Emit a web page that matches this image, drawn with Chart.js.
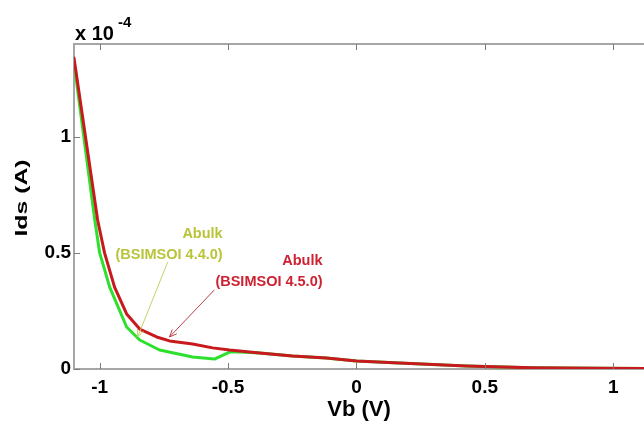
<!DOCTYPE html>
<html>
<head>
<meta charset="utf-8">
<script src="https://cdn.jsdelivr.net/npm/chart.js@4"></script>
<style>
  html, body { margin: 0; padding: 0; background: #fff; overflow: hidden; }
  #wrap { width: 644px; height: 427px; position: relative; }
</style>
</head>
<body>
<div id="wrap"><canvas id="myChart"></canvas></div>
<script>
// Vb (V) and Ids (x 1e-4 A)
var vbRed  = [-1.1, -1.008, -0.981, -0.942, -0.895, -0.844, -0.778, -0.728, -0.638, -0.560, -0.494, -0.377, -0.249, -0.117, 0.0, 0.167, 0.428, 0.685, 0.946, 1.12];
var idsRed = [1.34, 0.642, 0.500, 0.353, 0.237, 0.172, 0.138, 0.121, 0.108, 0.091, 0.082, 0.069, 0.056, 0.047, 0.034, 0.026, 0.013, 0.005, 0.003, 0.002];

var vbGreen  = [-1.1, -1.019, -1.0, -0.961, -0.895, -0.844, -0.767, -0.638, -0.553, -0.494, -0.455, -0.377, -0.249, -0.117, 0.0, 0.167, 0.428, 0.685, 0.946, 1.12];
var idsGreen = [1.32, 0.642, 0.500, 0.353, 0.181, 0.125, 0.082, 0.052, 0.043, 0.073, 0.073, 0.069, 0.056, 0.047, 0.034, 0.026, 0.013, 0.005, 0.003, 0.002];

var xTicks = [-1, -0.5, 0, 0.5, 1];
var yTicks = [0, 0.5, 1];

// annotation labels (anchored in data units)
var notes = [
  {lines: ['Abulk', '(BSIMSOI 4.4.0)'], x: -0.521, y: [0.582, 0.491], color: '#b9c43a',
   arrow: [-0.735, 0.461, -0.852, 0.138], arrowColor: '#c9cf6a'},
  {lines: ['Abulk', '(BSIMSOI 4.5.0)'], x: -0.132, y: [0.466, 0.375], color: '#cc2233',
   arrow: [-0.553, 0.341, -0.728, 0.138], arrowColor: '#b8404a'}
];

var FONT = '"Liberation Sans", Arial, Helvetica, sans-serif';

function pts(xs, ys) {
  var out = [];
  for (var i = 0; i < xs.length; i++) out.push({x: xs[i], y: ys[i]});
  return out;
}

//inward tick marks, top frame line, labels and arrows
var extras = {
  id: 'extras',
  afterDatasetsDraw: function(chart) {
    var c = chart.ctx, a = chart.chartArea;
    var sx = chart.scales.x, sy = chart.scales.y;
    c.save();
    c.strokeStyle = '#a6a6a6';
    c.lineWidth = 2;
    c.beginPath();
    c.moveTo(a.left - 1, a.top);
    c.lineTo(a.right, a.top);
    c.stroke();

    c.strokeStyle = '#7a7a7a';
    c.lineWidth = 1;
    c.beginPath();
    xTicks.forEach(function(v) {
      var px = Math.round(sx.getPixelForValue(v)) + 0.5;
      c.moveTo(px, a.bottom); c.lineTo(px, a.bottom - 6);
      c.moveTo(px, a.top); c.lineTo(px, a.top + 6);
    });
    yTicks.forEach(function(v) {
      var py = Math.round(sy.getPixelForValue(v)) + 0.5;
      c.moveTo(a.left, py); c.lineTo(a.left + 6, py);
    });
    c.stroke();

    notes.forEach(function(n) {
      c.fillStyle = n.color;
      c.font = 'bold 14.5px ' + FONT;
      c.textAlign = 'right';
      c.textBaseline = 'middle';
      n.lines.forEach(function(t, i) {
        c.fillText(t, sx.getPixelForValue(n.x), sy.getPixelForValue(n.y[i]));
      });
      var x1 = sx.getPixelForValue(n.arrow[0]), y1 = sy.getPixelForValue(n.arrow[1]);
      var x2 = sx.getPixelForValue(n.arrow[2]), y2 = sy.getPixelForValue(n.arrow[3]);
      var ang = Math.atan2(y2 - y1, x2 - x1);
      c.strokeStyle = n.arrowColor;
      c.lineWidth = 1;
      c.beginPath();
      c.moveTo(x1, y1); c.lineTo(x2, y2);
      c.moveTo(x2 - 8 * Math.cos(ang - 0.4), y2 - 8 * Math.sin(ang - 0.4));
      c.lineTo(x2, y2);
      c.lineTo(x2 - 8 * Math.cos(ang + 0.4), y2 - 8 * Math.sin(ang + 0.4));
      c.stroke();
    });

    // exponent label
    c.fillStyle = '#000';
    c.textAlign = 'left';
    c.textBaseline = 'alphabetic';
    c.font = 'bold 20px ' + FONT;
    c.fillText('x 10', 75, 40);
    c.font = 'bold 15px ' + FONT;
    c.fillText('-4', 118, 27);

    // y title (tall, narrow lettering as in the figure)
    c.font = 'bold 16px ' + FONT;
    c.textAlign = 'center';
    c.textBaseline = 'middle';
    c.translate(23, 198);
    c.rotate(-Math.PI / 2);
    c.scale(1.55, 1);
    c.fillText('Ids (A)', 0, 0);
    c.restore();
  }
};

var ctx = document.getElementById('myChart').getContext('2d');
var myChart = new Chart(ctx, {
  type: 'line',
  data: {
    datasets: [
      {label: 'BSIMSOI 4.5.0', data: pts(vbRed, idsRed), borderColor: '#c8191e', borderWidth: 3},
      {label: 'BSIMSOI 4.4.0', data: pts(vbGreen, idsGreen), borderColor: '#2ee02e', borderWidth: 3}
    ]
  },
  options: {
    responsive: true,
    maintainAspectRatio: false,
    animation: false,
    devicePixelRatio: 1,
    layout: {padding: {top: 44, left: 0, right: 0, bottom: 0}},
    elements: {point: {radius: 0}, line: {tension: 0, borderJoinStyle: 'round', borderCapStyle: 'round'}},
    plugins: {legend: {display: false}, tooltip: {enabled: false}},
    scales: {
      x: {
        type: 'linear', min: -1.1, max: 1.12,
        afterBuildTicks: function(s) { s.ticks = xTicks.map(function(v) { return {value: v}; }); },
        afterFit: function(s) { s.height = 58; },
        grid: {drawOnChartArea: false, drawTicks: false},
        border: {color: '#a6a6a6', width: 2},
        ticks: {color: '#000', padding: 7, maxRotation: 0, font: {family: FONT, size: 19, weight: 'bold'},
                callback: function(v) { return String(v); }},
        title: {display: true, text: 'Vb (V)', color: '#000', padding: {top: 0, bottom: 4},
                font: {family: FONT, size: 22, weight: 'bold'}}
      },
      y: {
        type: 'linear', min: 0, max: 1.4,
        afterBuildTicks: function(s) { s.ticks = yTicks.map(function(v) { return {value: v}; }); },
        afterFit: function(s) { s.width = 74; },
        grid: {drawOnChartArea: false, drawTicks: false},
        border: {color: '#a6a6a6', width: 2},
        ticks: {color: '#000', padding: 3, font: {family: FONT, size: 19, weight: 'bold'},
                callback: function(v) { return String(v); }}
      }
    }
  },
  plugins: [extras]
});
</script>
</body>
</html>
